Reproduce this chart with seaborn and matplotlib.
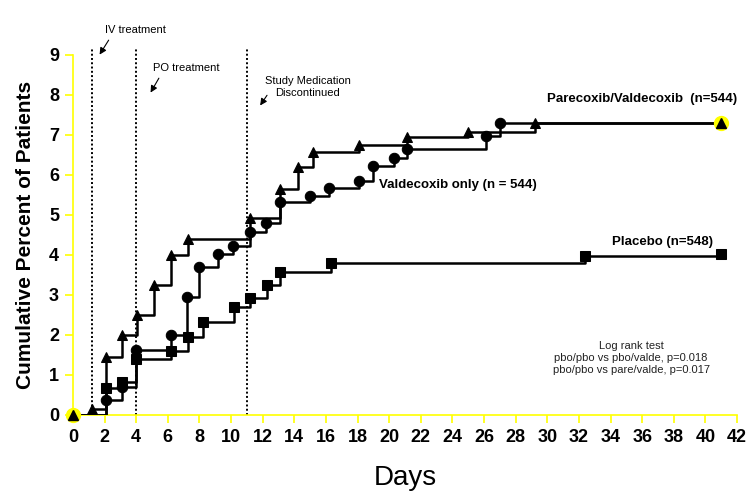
import matplotlib
matplotlib.use("Agg")
import matplotlib.pyplot as plt
import seaborn as sns

# Kaplan-Meier style cumulative percent
pare_days = [0, 1.2, 2.1, 3.1, 4.05, 5.1, 6.2, 7.3, 11.2, 13.1, 14.2, 15.2, 18.1, 21.1, 25.0, 29.2, 41.0]
pare_pct = [0, 0.15, 1.45, 2.0, 2.5, 3.25, 4.0, 4.4, 4.93, 5.65, 6.2, 6.57, 6.75, 6.95, 7.08, 7.3, 7.3]

valde_days = [0, 2.1, 3.1, 4.0, 6.2, 7.2, 8.0, 9.2, 10.15, 11.2, 12.2, 13.1, 15.0, 16.2, 18.1, 19.0, 20.3, 21.1, 26.1, 27.0, 41.0]
valde_pct = [0, 0.37, 0.7, 1.63, 2.0, 2.95, 3.7, 4.03, 4.23, 4.57, 4.8, 5.32, 5.48, 5.67, 5.85, 6.23, 6.42, 6.66, 6.97, 7.3, 7.3]

pbo_days = [0, 2.1, 3.1, 4.0, 6.2, 7.3, 8.25, 10.2, 11.2, 12.3, 13.1, 16.3, 32.4, 41.0]
pbo_pct = [0, 0.67, 0.82, 1.4, 1.6, 1.95, 2.33, 2.7, 2.93, 3.25, 3.57, 3.8, 3.97, 4.02]

phase_days = [1.2, 4.0, 11.0]
x_ticks = list(range(0, 43, 2))
y_ticks = list(range(0, 10))

sns.set_style("white")
plt.rcParams['font.family'] = ['Liberation Sans', 'DejaVu Sans']
plt.rcParams['text.color'] = 'black'
plt.rcParams['axes.labelcolor'] = 'black'

fig = plt.figure(figsize=(7.47, 5.03), dpi=100)
ax = fig.add_axes([0.0977, 0.175, 0.889, 0.7157])

yellow = "#ffff00"

# treatment phase markers
ax.vlines(phase_days, 0, 9.15, colors="black", linestyles=(0, (1, 1.2)), lw=1.4, clip_on=False, zorder=2)

sns.lineplot(x=valde_days, y=valde_pct, ax=ax, drawstyle="steps-post", color="black", lw=1.8,
             marker="o", markersize=7.5, markeredgecolor="black", markevery=list(range(1, len(valde_days) - 1)),
             zorder=3)
sns.lineplot(x=pbo_days, y=pbo_pct, ax=ax, drawstyle="steps-post", color="black", lw=1.8,
             marker="s", markersize=7, markeredgecolor="black", markevery=list(range(1, len(pbo_days))),
             zorder=3)
sns.lineplot(x=pare_days, y=pare_pct, ax=ax, drawstyle="steps-post", color="black", lw=1.8,
             marker="^", markersize=7, markeredgecolor="black", markevery=list(range(1, len(pare_days) - 1)),
             zorder=4)

# end points with yellow halo
for xd, yd in [(pare_days[0], pare_pct[0]), (pare_days[-1], pare_pct[-1])]:
    ax.plot(xd, yd, "o", ms=10, color=yellow, mec=yellow, zorder=5, clip_on=False)
    ax.plot(xd, yd, "^", ms=7, color="black", zorder=6, clip_on=False)

ax.set_xlim(0, 42)
ax.set_ylim(0, 9)
ax.set_xticks(x_ticks)
ax.set_yticks(y_ticks)
sns.despine(ax=ax)
for side in ["left", "bottom"]:
    ax.spines[side].set_color(yellow)
    ax.spines[side].set_linewidth(1.2)
ax.tick_params(axis="both", direction="out", length=6, width=1.2, color=yellow,
               labelsize=13, labelcolor="black", pad=4, left=True, bottom=True)
for lab in ax.get_xticklabels() + ax.get_yticklabels():
    lab.set_fontweight("bold")

ax.set_xlabel("Days", fontsize=20, labelpad=14)
ax.set_ylabel("Cumulative Percent of Patients", fontsize=15, fontweight="bold", labelpad=10)

# group labels
ax.text(42.0, 7.9, "Parecoxib/Valdecoxib  (n=544)", fontsize=9.5, fontweight="bold", ha="right", va="center")
ax.text(19.35, 5.75, "Valdecoxib only (n = 544)", fontsize=9.5, fontweight="bold", va="center")
ax.text(34.1, 4.33, "Placebo (n=548)", fontsize=9.5, fontweight="bold", va="center")

ax.text(35.3, 1.43, "Log rank test\npbo/pbo vs pbo/valde, p=0.018\npbo/pbo vs pare/valde, p=0.017",
        fontsize=8, ha="center", va="center", linespacing=1.25, color="#222222")

# phase annotations
arrow = dict(arrowstyle="-|>", color="black", lw=0.8, mutation_scale=10)
ax.annotate("", xy=(1.59, 8.95), xytext=(2.35, 9.43), arrowprops=arrow, annotation_clip=False)
ax.text(2.0, 9.63, "IV treatment", fontsize=8, va="center", clip_on=False)
ax.annotate("", xy=(4.82, 8.0), xytext=(5.52, 8.48), arrowprops=arrow, annotation_clip=False)
ax.text(5.08, 8.68, "PO treatment", fontsize=8, va="center")
ax.annotate("", xy=(11.74, 7.68), xytext=(12.37, 8.05), arrowprops=arrow, annotation_clip=False)
ax.text(14.85, 8.2, "Study Medication\nDiscontinued", fontsize=8, ha="center", va="center", linespacing=1.3)

fig.savefig("out.png", dpi=100)
